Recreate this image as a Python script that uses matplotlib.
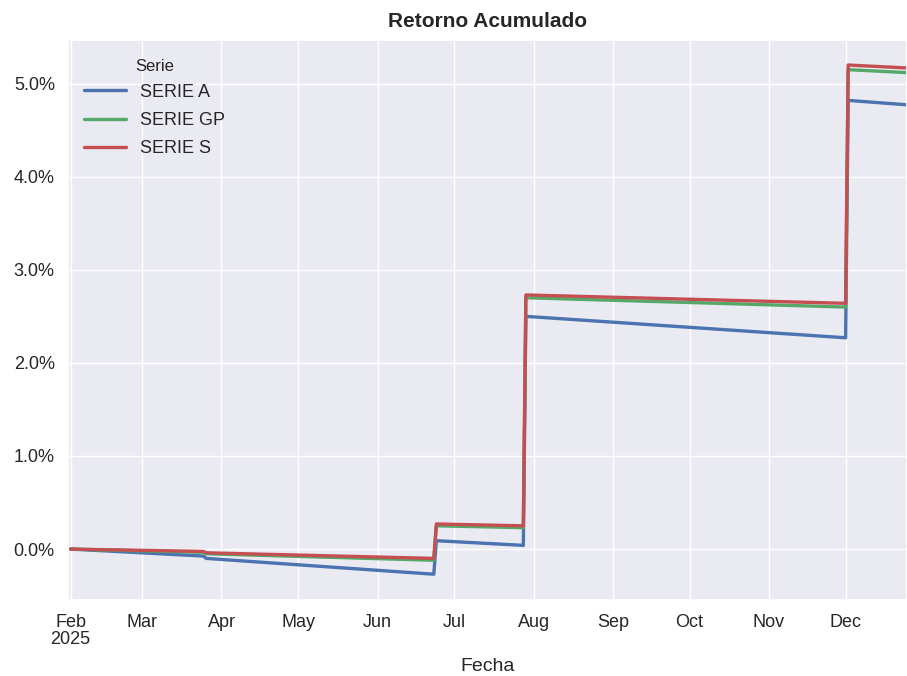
import numpy as np
import pandas as pd
import matplotlib
matplotlib.use('Agg')
import matplotlib.pyplot as plt
import matplotlib.dates as mdates
from matplotlib.ticker import PercentFormatter, FuncFormatter
import seaborn as sns

# Break points of each series (return in %)
fechas = pd.to_datetime(['2025-02-01', '2025-03-25', '2025-03-26', '2025-06-23',
                         '2025-06-24', '2025-07-28', '2025-07-29', '2025-12-01',
                         '2025-12-02', '2025-12-31'])
serie_a = [0.00, -0.075, -0.10, -0.27, 0.09, 0.04, 2.50, 2.27, 4.82, 4.76]
serie_gp = [0.00, -0.035, -0.05, -0.12, 0.25, 0.23, 2.70, 2.60, 5.15, 5.11]
serie_s = [0.00, -0.025, -0.04, -0.10, 0.27, 0.25, 2.73, 2.64, 5.20, 5.16]

nombres = ['SERIE A', 'SERIE GP', 'SERIE S']
colores = ['#4C72B0', '#55A868', '#C44E52']

sns.set_theme(style='darkgrid')
plt.rcParams['font.family'] = ['Liberation Sans', 'DejaVu Sans']

fig = plt.figure(figsize=(9.07, 6.76), dpi=100)
ax = fig.add_axes([0.075, 0.112, 0.925, 0.829])

for nombre, valores, color in zip(nombres, [serie_a, serie_gp, serie_s], colores):
    ax.plot(fechas, valores, color=color, lw=2.4, label=nombre)

ax.set_xlim(pd.Timestamp('2025-01-31'), pd.Timestamp('2025-12-25'))
ax.set_ylim(-0.55, 5.47)
ax.yaxis.set_major_formatter(PercentFormatter(decimals=1))


def fmt_mes(x, pos):
    d = mdates.num2date(x)
    if d.month == 1 or pos == 0:
        return d.strftime('%b\n%Y')
    return d.strftime('%b')


ax.xaxis.set_major_locator(mdates.MonthLocator())
ax.xaxis.set_major_formatter(FuncFormatter(fmt_mes))
ax.tick_params(labelsize=13)
ax.tick_params(axis='x', pad=4)
for lbl in ax.get_xticklabels():
    lbl.set_linespacing(1.0)

ax.set_title('Retorno Acumulado', fontsize=15, fontweight='bold', pad=9)
ax.set_xlabel('Fecha', fontsize=14, labelpad=7)

leg = ax.legend(title='Serie', loc='upper left', frameon=False, fontsize=13,
                title_fontsize=12, handlelength=2.3, labelspacing=0.62,
                bbox_to_anchor=(0.0, 0.995))
leg._legend_box.sep = 7

fig.savefig('out.png', dpi=100)
